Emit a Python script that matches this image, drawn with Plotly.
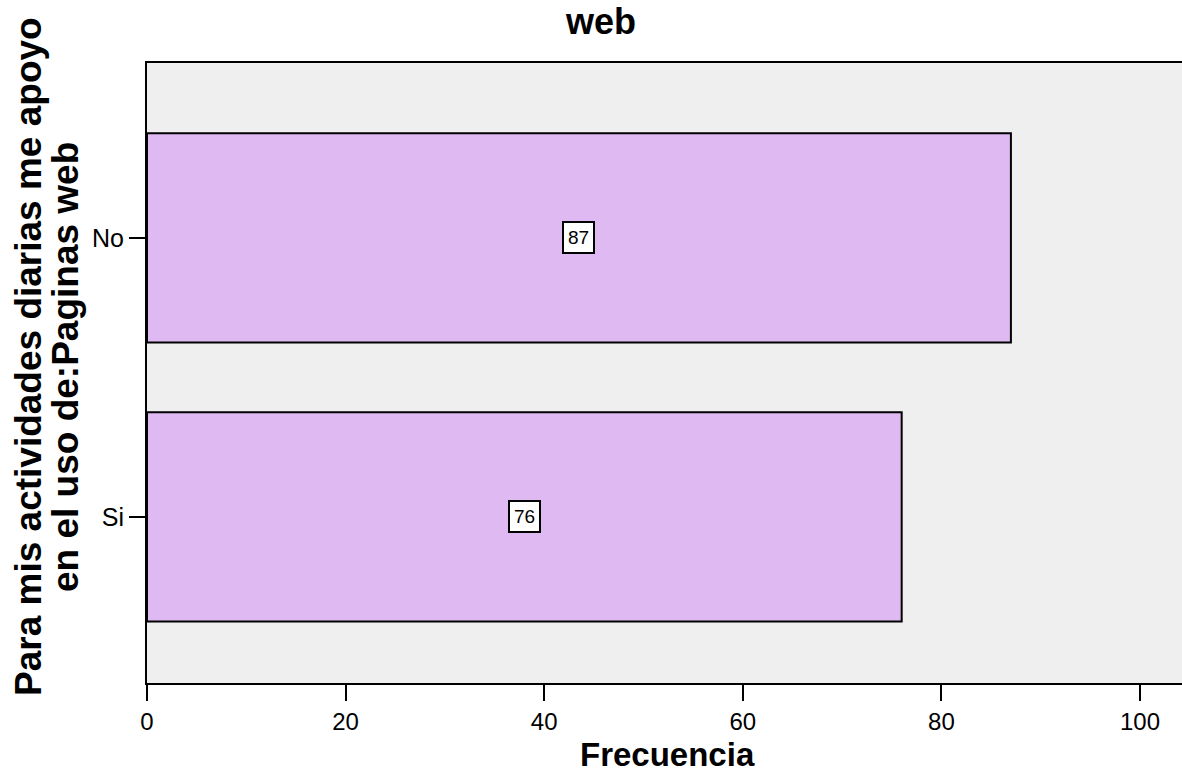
import plotly.graph_objects as go

# Frequency of responses
categorias = ["Si", "No"]
frecuencias = [76, 87]
ticks_x = [0, 20, 40, 60, 80, 100]

titulo = "web"
titulo_x = "Frecuencia"
titulo_y = ["Para mis actividades diarias me apoyo", "en el uso de:Paginas web"]

FUENTE = "Liberation Sans, Arial, sans-serif"
W, H = 1182, 775
ML, MR, MT, MB = 147, 0, 63, 92
pw, ph = W - ML - MR, H - MT - MB


def px_to_paper_x(px):
    return (px - ML) / pw


def px_to_paper_y(py):
    return (H - MB - py) / ph


fig = go.Figure()
fig.add_trace(go.Bar(
    x=frecuencias,
    y=categorias,
    orientation="h",
    width=0.75,
    marker=dict(color="#DFB9F2", line=dict(color="black", width=2)),
    hoverinfo="x+y",
))

# value labels in boxed tags at the middle of each bar
for cat, val in zip(categorias, frecuencias):
    fig.add_annotation(
        x=val / 2, y=cat, xref="x", yref="y",
        text=str(val), showarrow=False,
        font=dict(family=FUENTE, size=19, color="black"),
        bgcolor="white", bordercolor="black", borderwidth=2, borderpad=4,
    )

fig.add_annotation(
    x=px_to_paper_x(600), y=px_to_paper_y(0), xref="paper", yref="paper",
    text="<b>%s</b>" % titulo, showarrow=False,
    font=dict(family=FUENTE, size=36, color="black"),
    xanchor="center", yanchor="top", borderpad=0,
)
fig.add_annotation(
    x=px_to_paper_x(667), y=px_to_paper_y(754), xref="paper", yref="paper",
    text="<b>%s</b>" % titulo_x, showarrow=False,
    font=dict(family=FUENTE, size=33, color="black"),
    xanchor="center", yanchor="middle", borderpad=0,
)
# two-line rotated axis title, one annotation per line
for linea, cx, cy in zip(titulo_y, [28, 65], [357, 367]):
    fig.add_annotation(
        x=px_to_paper_x(cx), y=px_to_paper_y(cy), xref="paper", yref="paper",
        text="<b>%s</b>" % linea, showarrow=False, textangle=-90,
        font=dict(family=FUENTE, size=37, color="black"),
        xanchor="center", yanchor="middle",
    )

fig.update_layout(
    width=W, height=H,
    margin=dict(l=ML, r=MR, t=MT, b=MB, pad=0),
    paper_bgcolor="white",
    plot_bgcolor="#EFEFEF",
    showlegend=False,
    bargap=0.25,
    xaxis=dict(
        range=[0, (W - ML - MR) / 9.93],
        tickvals=ticks_x,
        ticks="outside", ticklen=16, tickwidth=2, tickcolor="black",
        showline=True, linecolor="black", linewidth=2, mirror=True,
        showgrid=False, zeroline=False,
        tickfont=dict(family=FUENTE, size=24, color="black"),
        ticklabelstandoff=0,
        fixedrange=True,
    ),
    yaxis=dict(
        type="category",
        categoryorder="array", categoryarray=categorias,
        range=[-0.595, 1.627],
        ticks="outside", ticklen=16, tickwidth=2, tickcolor="black",
        showline=True, linecolor="black", linewidth=2,
        showgrid=False, zeroline=False,
        tickfont=dict(family=FUENTE, size=25, color="black"),
        ticklabelstandoff=0,
        fixedrange=True,
    ),
)

fig.write_html("out.html", config={"displayModeBar": False})
